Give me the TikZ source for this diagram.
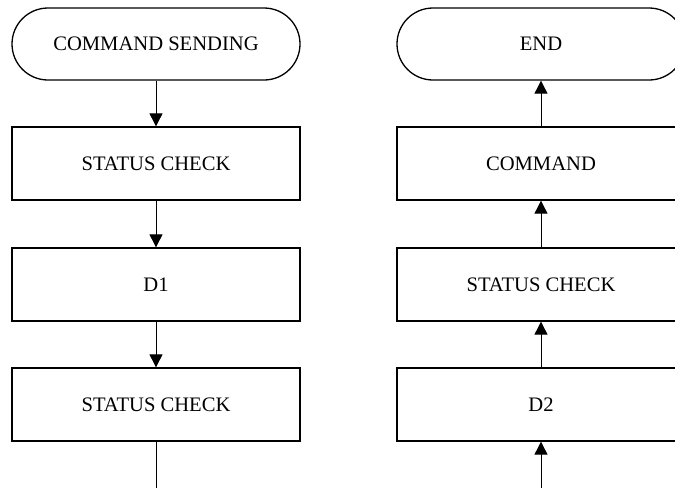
\documentclass[tikz,border=0pt]{standalone}
\usepackage{fontspec}
\setmainfont{Liberation Serif}
\usetikzlibrary{arrows.meta}
\begin{document}
\begin{tikzpicture}[x=1pt,y=-1pt,
  box/.style={draw, line width=1.3pt, minimum width=288pt, minimum height=73pt, inner sep=0pt, font=\fontsize{20.6}{24}\selectfont},
  term/.style={box, minimum height=72pt, rounded corners=36pt},
  flow/.style={line width=0.9pt, -{Triangle[length=13pt,width=13pt]}},
  plain/.style={line width=0.9pt}]
\useasboundingbox (0,0) rectangle (675,488);
\clip (0,0) rectangle (675,488);
% left column
\node[term] (t1) at (156,44) {COMMAND SENDING};
\node[box] (a1) at (156,163.5) {STATUS CHECK};
\node[box] (a2) at (156,284.5) {D1};
\node[box] (a3) at (156,404.5) {STATUS CHECK};
\coordinate (ca) at (156,488);
% right column
\node[term] (t2) at (541,44) {END};
\node[box] (b1) at (541,163.5) {COMMAND};
\node[box] (b2) at (541,284.5) {STATUS CHECK};
\node[box] (b3) at (541,404.5) {D2};
\coordinate (cb) at (541,488);
% connectors
\draw[flow] (t1) -- (a1);
\draw[flow] (a1) -- (a2);
\draw[flow] (a2) -- (a3);
\draw[plain] (a3) -- (ca);
\draw[flow] (b1) -- (t2);
\draw[flow] (b2) -- (b1);
\draw[flow] (b3) -- (b2);
\draw[flow] (cb) -- (b3);
\end{tikzpicture}
\end{document}
